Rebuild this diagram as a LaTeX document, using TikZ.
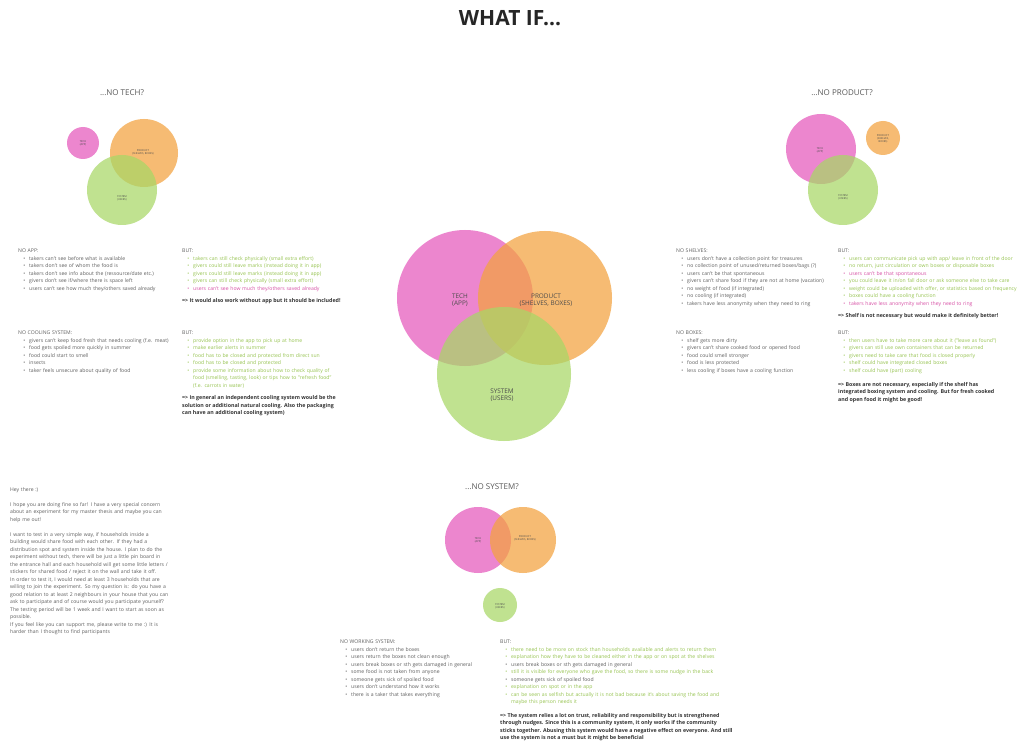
\documentclass[tikz,border=0pt]{standalone}
\usepackage{fontspec}
\setmainfont{Open Sans}
\usetikzlibrary{positioning}
\definecolor{techpink}{RGB}{230,88,188}
\definecolor{prodorange}{RGB}{243,162,62}
\definecolor{sysgreen}{RGB}{168,215,102}
\definecolor{bodytext}{RGB}{95,95,95}
\definecolor{okgreen}{RGB}{150,195,80}
\definecolor{badpink}{RGB}{215,80,165}
\tikzset{
    venn/.style={circle, inner sep=0pt, fill opacity=0.72, draw=none},
    vennlbl/.style={align=center, text=black!70, inner sep=0pt, font=\fontsize{6.4}{7.6}\selectfont},
    tinylbl/.style={align=center, text=black!70, inner sep=0pt, font=\fontsize{2.6}{3.2}\selectfont},
    question/.style={text=black!65, inner sep=0pt, font=\fontsize{8}{9}\selectfont},
    txtblock/.style={anchor=north west, inner sep=0pt, align=left, text=bodytext, font=\fontsize{5.1}{7.5}\selectfont},
    concl/.style={anchor=north west, inner sep=0pt, align=left, text=black!80, font=\fontsize{5.3}{7.5}\selectfont\bfseries}
}
\newcommand{\itm}[2][bodytext]{\par\hangindent=11pt\hangafter=0\noindent{\color{#1}\llap{\textbullet\hspace{4pt}}#2}\par}

\begin{document}
\begin{tikzpicture}[x=1pt, y=-1pt]
    \useasboundingbox[fill=white] (0,0) rectangle (1020,754);

    % --- TITLE ---
    \node[font=\fontsize{21}{25}\selectfont\bfseries, text=black!85] (title) at (510,18) {WHAT IF...};

    % --- CENTER VENN ---
    \node[venn, fill=techpink, minimum size=136pt] (tech) at (465,298) {};
    \node[venn, fill=prodorange, minimum size=134pt] (product) at (545,298) {};
    \node[venn, fill=sysgreen, minimum size=134pt] (system) at (504,374) {};
    \node[vennlbl] (techlbl) at (460,300) {TECH\\(APP)};
    \node[vennlbl] (productlbl) at (546,300) {PRODUCT\\(SHELVES, BOXES)};
    \node[vennlbl] (systemlbl) at (502,395) {SYSTEM\\(USERS)};

    % --- NO TECH ---
    \node[question] (qtech) at (122,93) {...NO TECH?};
    \node[venn, fill=techpink, minimum size=32pt] (ntTech) at (83,143) {};
    \node[venn, fill=prodorange, minimum size=68pt] (ntProduct) at (144,153) {};
    \node[venn, fill=sysgreen, minimum size=70pt] (ntSystem) at (122,190) {};
    \node[tinylbl] at (83,143) {TECH\\(APP)};
    \node[tinylbl] at (143,152) {PRODUCT\\(SHELVES, BOXES)};
    \node[tinylbl] at (122,198) {SYSTEM\\(USERS)};

    % --- NO PRODUCT ---
    \node[question] (qproduct) at (842,93) {...NO PRODUCT?};
    \node[venn, fill=techpink, minimum size=70pt] (npTech) at (821,149) {};
    \node[venn, fill=prodorange, minimum size=34pt] (npProduct) at (883,138) {};
    \node[venn, fill=sysgreen, minimum size=70pt] (npSystem) at (843,190) {};
    \node[tinylbl] at (820,150) {TECH\\(APP)};
    \node[tinylbl] at (883,139) {PRODUCT\\(SHELVES,\\BOXES)};
    \node[tinylbl] at (843,197) {SYSTEM\\(USERS)};

    % --- NO SYSTEM ---
    \node[question] (qsystem) at (492,487) {...NO SYSTEM?};
    \node[venn, fill=techpink, minimum size=66pt] (nsTech) at (478,540) {};
    \node[venn, fill=prodorange, minimum size=66pt] (nsProduct) at (523,540) {};
    \node[venn, fill=sysgreen, minimum size=34pt] (nsSystem) at (500,605) {};
    \node[tinylbl] at (478,540) {TECH\\(APP)};
    \node[tinylbl] at (525,538) {PRODUCT\\(SHELVES, BOXES)};
    \node[tinylbl] at (500,606) {SYSTEM\\(USERS)};

    % --- NO APP ---
    \node[txtblock, text width=160pt] (noapp) at (18,249) {NO APP:
        \itm{takers can't see before what is available}
        \itm{takers don't see of whom the food is}
        \itm{takers don't see info about the (ressource/date etc.)}
        \itm{givers don't see if/where there is space left}
        \itm{users can't see how much they/others saved already}};
    \node[txtblock, text width=200pt] (butapp) at (182,249) {BUT:
        \itm[okgreen]{takers can still check physically (small extra effort)}
        \itm[okgreen]{givers could still leave marks (instead doing it in app)}
        \itm[okgreen]{givers could still leave marks (instead doing it in app)}
        \itm[okgreen]{givers can still check physically (small extra effort)}
        \itm[badpink]{users can't see how much they/others saved already}};
    \node[concl, below=7pt of butapp.south west, anchor=north west] (conclapp) {=> It would also work without app but it should be included!};

    % --- NO COOLING ---
    \node[txtblock, text width=160pt] (nocool) at (18,331) {NO COOLING SYSTEM:
        \itm{givers can't keep food fresh that needs cooling (f.e. meat)}
        \itm{food gets spoiled more quickly in summer}
        \itm{food could start to smell}
        \itm{insects}
        \itm{taker feels unsecure about quality of food}};
    \node[txtblock, text width=200pt] (butcool) at (182,331) {BUT:
        \itm[okgreen]{provide option in the app to pick up at home}
        \itm[okgreen]{make earlier alerts in summer}
        \itm[okgreen]{food has to be closed and protected from direct sun}
        \itm[okgreen]{food has to be closed and protected}
        \itm[okgreen]{provide some information about how to check quality of\newline food (smelling, tasting, look) or tips how to "refresh food"\newline (f.e. carrots in water)}};
    \node[concl, below=7pt of butcool.south west, anchor=north west] (conclcool) {=> In general an independent cooling system would be the\\solution or additional natural cooling. Also the packaging\\can have an additional cooling system)};

    % --- NO SHELVES ---
    \node[txtblock, text width=160pt] (noshelf) at (676,249) {NO SHELVES:
        \itm{users don't have a collection point for treasures}
        \itm{no collection point of unused/returned boxes/bags (?)}
        \itm{users can't be that spontaneous}
        \itm{givers can't share food if they are not at home (vacation)}
        \itm{no weight of food (if integrated)}
        \itm{no cooling (if integrated)}
        \itm{takers have less anonymity when they need to ring}};
    \node[txtblock, text width=182pt] (butshelf) at (838,249) {BUT:
        \itm[okgreen]{users can communicate pick up with app/ leave in front of the door}
        \itm[okgreen]{no return, just circulation or own boxes or disposable boxes}
        \itm[badpink]{users can't be that spontaneous}
        \itm[okgreen]{you could leave it in/on fall door or ask someone else to take care}
        \itm[okgreen]{weight could be uploaded with offer, or statistics based on frequency}
        \itm[okgreen]{boxes could have a cooling function}
        \itm[badpink]{takers have less anonymity when they need to ring}};
    \node[concl, below=6pt of butshelf.south west, anchor=north west] (conclshelf) {=> Shelf is not necessary but would make it definitely better!};

    % --- NO BOXES ---
    \node[txtblock, text width=160pt] (noboxes) at (676,331) {NO BOXES:
        \itm{shelf gets more dirty}
        \itm{givers can't share cooked food or opened food}
        \itm{food could smell stronger}
        \itm{food is less protected}
        \itm{less cooling if boxes have a cooling function}};
    \node[txtblock, text width=182pt] (butboxes) at (838,331) {BUT:
        \itm[okgreen]{then users have to take more care about it ("leave as found")}
        \itm[okgreen]{givers can still use own containers that can be returned}
        \itm[okgreen]{givers need to take care that food is closed properly}
        \itm[okgreen]{shelf could have integrated closed boxes}
        \itm[okgreen]{shelf could have (part) cooling}};
    \node[concl, below=8pt of butboxes.south west, anchor=north west] (conclboxes) {=> Boxes are not necessary, especially if the shelf has\\integrated boxing system and cooling. But for fresh cooked\\and open food it might be good!};

    % --- MESSAGE ---
    \node[txtblock, text width=185pt] (heythere) at (10,487) {Hey there :)\\[7.5pt]
        I hope you are doing fine so far! I have a very special concern\\about an experiment for my master thesis and maybe you can\\help me out!\\[7.5pt]
        I want to test in a very simple way, if households inside a\\building would share food with each other. If they had a\\distribution spot and system inside the house. I plan to do the\\experiment without tech, there will be just a little pin board in\\the entrance hall and each household will get some little letters /\\stickers for shared food / reject it on the wall and take it off.\\In order to test it, I would need at least 3 households that are\\willing to join the experiment. So my question is: do you have a\\good relation to at least 2 neighbours in your house that you can\\ask to participate and of course would you participate yourself?\\The testing period will be 1 week and I want to start as soon as\\possible.\\
        If you feel like you can support me, please write to me :) It is\\harder than I thought to find participants};

    % --- NO WORKING SYSTEM ---
    \node[txtblock, text width=158pt] (nosystem) at (340,640) {NO WORKING SYSTEM:
        \itm{users don't return the boxes}
        \itm{users return the boxes not clean enough}
        \itm{users break boxes or sth gets damaged in general}
        \itm{some food is not taken from anyone}
        \itm{someone gets sick of spoiled food}
        \itm{users don't understand how it works}
        \itm{there is a taker that takes everything}};
    \node[txtblock, text width=250pt] (butsystem) at (500,640) {BUT:
        \itm[okgreen]{there need to be more on stock than households available and alerts to return them}
        \itm[okgreen]{explanation how they have to be cleaned either in the app or on spot at the shelves}
        \itm{users break boxes or sth gets damaged in general}
        \itm[okgreen]{still it is visible for everyone who gave the food, so there is some nudge in the back}
        \itm{someone gets sick of spoiled food}
        \itm[okgreen]{explanation on spot or in the app}
        \itm[okgreen]{can be seen as selfish but actually it is not bad because it's about saving the food and\newline maybe this person needs it}};
    \node[concl, below=8pt of butsystem.south west, anchor=north west] (conclsystem) {=> The system relies a lot on trust, reliability and responsibility but is strengthened\\through nudges. Since this is a community system, it only works if the community\\sticks together. Abusing this system would have a negative effect on everyone. And still\\use the system is not a must but it might be beneficial};
\end{tikzpicture}
\end{document}
